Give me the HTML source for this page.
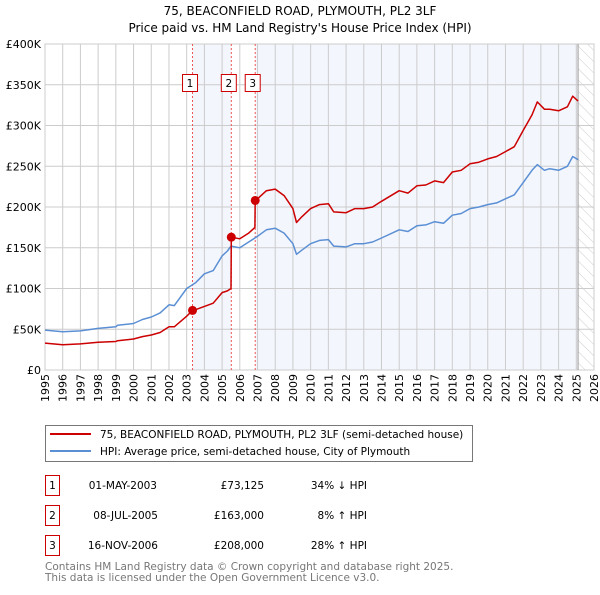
<!DOCTYPE html>
<html><head><meta charset="utf-8"><style>
body{margin:0;background:#fff;}
svg text{font-family:"DejaVu Sans","Liberation Sans",sans-serif;}
</style></head><body>
<svg id="c" width="600" height="590" xmlns="http://www.w3.org/2000/svg">
<text x="300" y="15" text-anchor="middle" font-size="12" fill="#000">75, BEACONFIELD ROAD, PLYMOUTH, PL2 3LF</text>
<text x="300" y="32" text-anchor="middle" font-size="12" fill="#000">Price paid vs. HM Land Registry's House Price Index (HPI)</text>
<g id="plot"></g>
<g>
<rect x="45.5" y="425.5" width="427" height="36" fill="#fff" stroke="#777"/>
<line x1="50" y1="434" x2="91" y2="434" stroke="#cc0000" stroke-width="2"/>
<text x="100" y="438" font-size="10.5">75, BEACONFIELD ROAD, PLYMOUTH, PL2 3LF (semi-detached house)</text>
<line x1="50" y1="451" x2="91" y2="451" stroke="#5b8fd4" stroke-width="2"/>
<text x="100" y="455" font-size="10.5">HPI: Average price, semi-detached house, City of Plymouth</text>
</g>
<g font-size="10.5">
<rect x="45.5" y="475.5" width="14" height="20" fill="#fff" stroke="#cc0000"/><text x="52.5" y="489" text-anchor="middle">1</text>
<text x="157" y="489" text-anchor="end">01-MAY-2003</text><text x="264" y="489" text-anchor="end">£73,125</text><text x="367" y="489" text-anchor="end">34% ↓ HPI</text>
<rect x="45.5" y="505.5" width="14" height="20" fill="#fff" stroke="#cc0000"/><text x="52.5" y="519" text-anchor="middle">2</text>
<text x="158" y="519" text-anchor="end">08-JUL-2005</text><text x="264" y="519" text-anchor="end">£163,000</text><text x="367" y="519" text-anchor="end">8% ↑ HPI</text>
<rect x="45.5" y="535.5" width="14" height="20" fill="#fff" stroke="#cc0000"/><text x="52.5" y="549" text-anchor="middle">3</text>
<text x="158" y="549" text-anchor="end">16-NOV-2006</text><text x="264" y="549" text-anchor="end">£208,000</text><text x="367" y="549" text-anchor="end">28% ↑ HPI</text>
</g>
<text x="45" y="570" font-size="10.5" fill="#777">Contains HM Land Registry data © Crown copyright and database right 2025.</text>
<text x="45" y="581" font-size="10.5" fill="#777">This data is licensed under the Open Government Licence v3.0.</text>
</svg>
<script>
const yTicks=[0,50,100,150,200,250,300,350,400];
const yTickLabels=["£0","£50K","£100K","£150K","£200K","£250K","£300K","£350K","£400K"];
const xYears=[1995,1996,1997,1998,1999,2000,2001,2002,2003,2004,2005,2006,2007,2008,2009,2010,2011,2012,2013,2014,2015,2016,2017,2018,2019,2020,2021,2022,2023,2024,2025,2026];
const hpiX=[1995,1996,1997,1998,1999,1999.1,2000,2000.5,2001,2001.5,2002,2002.3,2003,2003.5,2004,2004.5,2005,2005.3,2005.5,2006,2006.5,2007,2007.5,2008,2008.5,2009,2009.2,2009.5,2010,2010.5,2011,2011.3,2012,2012.5,2013,2013.5,2014,2015,2015.5,2016,2016.5,2017,2017.5,2018,2018.5,2019,2019.5,2020,2020.5,2021,2021.5,2022,2022.5,2022.8,2023.2,2023.5,2024,2024.5,2024.8,2025.1];
const hpiY=[49,47,48,51,53,55,57,62,65,70,80,79,100,107,118,122,140,146,152,150,157,164,172,174,168,155,142,147,155,159,160,152,151,155,155,157,162,172,170,177,178,182,180,190,192,198,200,203,205,210,215,230,245,252,245,247,245,250,262,258];
const priceX=[1995,1996,1997,1998,1999,1999.1,2000,2000.5,2001,2001.5,2002,2002.3,2003,2003.33,2003.5,2004,2004.5,2005,2005.3,2005.5,2005.52,2006,2006.5,2006.85,2006.87,2007,2007.5,2008,2008.5,2009,2009.2,2009.5,2010,2010.5,2011,2011.3,2012,2012.5,2013,2013.5,2014,2015,2015.5,2016,2016.5,2017,2017.5,2018,2018.5,2019,2019.5,2020,2020.5,2021,2021.5,2022,2022.5,2022.8,2023.2,2023.5,2024,2024.5,2024.8,2025.1];
const priceY=[33,31,32,34,35,36,38,41,43,46,53,53,66,73,74,78,82,95,97,100,163,161,168,175,208,210,220,222,214,198,181,188,198,203,204,194,193,198,198,200,207,220,217,226,227,232,230,243,245,253,255,259,262,268,274,294,313,329,320,320,318,323,336,330];
const saleX=[2003.33,2005.52,2006.87];
const saleY=[73.125,163,208];
const saleLabels=["1","2","3"];

const L=45,R=594,T=44,B=370,x0=1995,x1=2026,yMax=400;
const sx=v=>L+(v-x0)/(x1-x0)*(R-L);
const sy=v=>B-v/yMax*(B-T);
const NS="http://www.w3.org/2000/svg";
const g=document.getElementById('plot');
function mk(tag,attrs,parent){const e=document.createElementNS(NS,tag);for(const k in attrs)e.setAttribute(k,attrs[k]);(parent||g).appendChild(e);return e;}
let r=mk('rect',{x:sx(saleX[0]),y:T,width:sx(saleX[1])-sx(saleX[0]),height:B-T,fill:'#eef2fc',opacity:0.7});


r=mk('rect',{x:sx(saleX[2]),y:T,width:sx(2025.1)-sx(saleX[2]),height:B-T,fill:'#eef2fc',opacity:0.7});


const defs=mk('defs',{});
const pat=mk('pattern',{id:'h',width:8,height:8,patternUnits:'userSpaceOnUse',patternTransform:'rotate(-45)'},defs);
mk('line',{x1:0,y1:0,x2:0,y2:8,stroke:'#ccc','stroke-width':1},pat);
r=mk('rect',{x:sx(2025.1),y:T,width:R-sx(2025.1),height:B-T,fill:'url(#h)'});


yTicks.forEach((v,i)=>{
  const l=mk('line',{x1:L,x2:R,y1:sy(v),y2:sy(v),stroke:'#ccc'});
  
  
  const t=mk('text',{x:L-4,y:sy(v)+4,'text-anchor':'end','font-size':'11'});
  t.textContent=yTickLabels[i];
  
  
});
xYears.forEach(v=>{
  const l=mk('line',{x1:sx(v),x2:sx(v),y1:T,y2:B,stroke:'#ccc'});
  
  
  const tx=sx(v)+4, ty=B+4;
  const t=mk('text',{x:tx,y:ty,'text-anchor':'end','font-size':'11'});
  t.setAttribute('transform','rotate(-90 '+tx.toFixed(1)+' '+ty+')');
  t.style.transformOrigin=tx.toFixed(1)+'px '+ty+'px';
  t.style.transform='rotate(-90deg)';
  t.textContent=v;
  
  
});
const fr=mk('rect',{x:L,y:T,width:R-L,height:B-T,fill:'none',stroke:'#ccc'});


let ln=mk('line',{x1:sx(2025.1),x2:sx(2025.1),y1:T,y2:B,stroke:'#999'});


saleX.forEach((v,i)=>{
  const l=mk('line',{x1:sx(v),x2:sx(v),y1:T,y2:B,stroke:'#e55','stroke-dasharray':'2,2'});
  
  
  const b=mk('rect',{x:sx(v)-10,y:74.5,width:15,height:17,fill:'#fff',stroke:'#cc0000'});
  
  
  const t=mk('text',{x:sx(v)-2.5,y:87,'text-anchor':'middle','font-size':'10.5'});
  t.textContent=saleLabels[i];
  
  
});
function path(xs,ys,color,name){
  const d=xs.map((x,i)=>(i?'L':'M')+sx(x).toFixed(1)+','+sy(ys[i]).toFixed(1)).join('');
  const p=mk('path',{d:d,fill:'none',stroke:color,'stroke-width':1.5,'stroke-linejoin':'round'});
  
  
}
path(hpiX,hpiY,'#5b8fd4','hpi-line');
path(priceX,priceY,'#cc0000','price-paid-line');
saleX.forEach((v,i)=>{
  const c=mk('circle',{cx:sx(v),cy:sy(saleY[i]),r:4.5,fill:'#cc0000'});
  
  
});
</script>
</body></html>
